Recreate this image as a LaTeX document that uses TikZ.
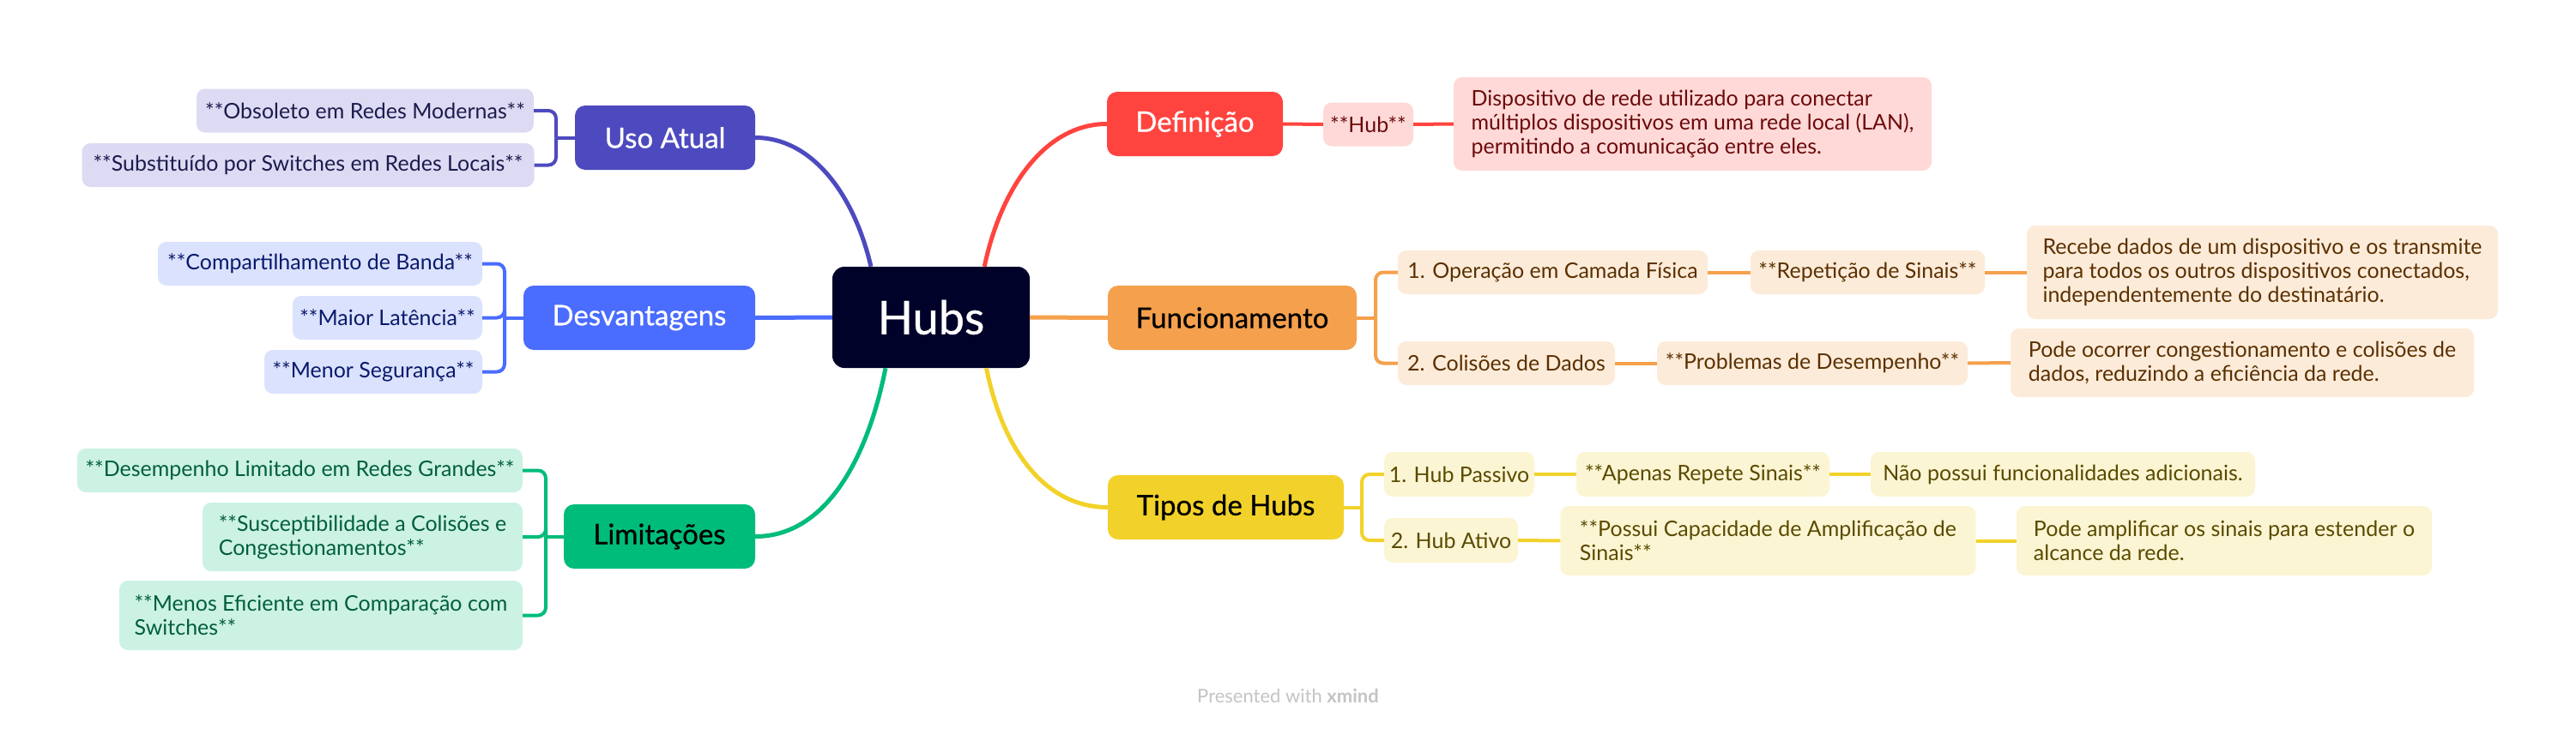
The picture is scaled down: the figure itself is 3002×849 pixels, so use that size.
\documentclass[tikz,border=0pt]{standalone}
\usepackage{fontspec}
\setmainfont{Lato}
\newfontfamily\medfont[FakeBold=0.7]{Lato}
\usetikzlibrary{calc}
\definecolor{cHub}{HTML}{000229}
\definecolor{cUso}{HTML}{4D4ABF}
\definecolor{cUsoL}{HTML}{DCDBF3}
\definecolor{cUsoT}{HTML}{1C1B4D}
\definecolor{cDes}{HTML}{4A6CFF}
\definecolor{cDesL}{HTML}{DBE2FE}
\definecolor{cDesT}{HTML}{0A1A6B}
\definecolor{cLim}{HTML}{00BC7A}
\definecolor{cLimL}{HTML}{CCF2E4}
\definecolor{cLimT}{HTML}{005F3A}
\definecolor{cDef}{HTML}{FF443F}
\definecolor{cDefL}{HTML}{FFD9D8}
\definecolor{cDefT}{HTML}{6B0A0A}
\definecolor{cFun}{HTML}{F5A04C}
\definecolor{cFunL}{HTML}{FDEBD9}
\definecolor{cFunT}{HTML}{5A3000}
\definecolor{cTip}{HTML}{F2D22A}
\definecolor{cTipL}{HTML}{FCF5D3}
\definecolor{cTipT}{HTML}{594A00}
\definecolor{cMark}{HTML}{C4C4C4}
\begin{document}
\begin{tikzpicture}[x=1pt,y=-1pt,
  base/.style={inner sep=0pt, align=center},
  hubbox/.style={base, fill=cHub, text=white, minimum width=230pt, minimum height=118pt, rounded corners=14pt, font=\medfont\fontsize{54}{60}\selectfont},
  mainbox/.style={base, minimum height=75pt, rounded corners=12pt, font=\medfont\fontsize{33}{38}\selectfont},
  subbox/.style={base, align=left, rounded corners=10pt, font=\fontsize{25}{28}\selectfont},
  sub1/.style={subbox, minimum height=51pt},
  mline/.style={line width=5pt},
  sline/.style={line width=4pt},
  bline/.style={line width=4pt, rounded corners=9pt},
]
\useasboundingbox[fill=white] (0,0) rectangle (3002,849);

% central
\node[hubbox] (hubs) at (1085,370) {Hubs};

% main branches
\node[mainbox, fill=cUso, text=white, minimum width=210pt] (uso) at (775,160.5) {Uso Atual};
\node[mainbox, fill=cDes, text=white, minimum width=270pt] (des) at (745,370.5) {Desvantagens};
\node[mainbox, fill=cLim, text=black, minimum width=223pt] (lim) at (768.5,625.5) {Limitações};
\node[mainbox, fill=cDef, text=white, minimum width=205pt] (defn) at (1392.5,144.5) {Definição};
\node[mainbox, fill=cFun, text=black, minimum width=290pt] (fun) at (1436,370.5) {Funcionamento};
\node[mainbox, fill=cTip, text=black, minimum width=275pt] (tip) at (1428.5,591.5) {Tipos de Hubs};

% Uso Atual children
\node[sub1, fill=cUsoL, text=cUsoT, minimum width=393pt] (u1) at (425.5,129) {**Obsoleto em Redes Modernas**};
\node[sub1, fill=cUsoL, text=cUsoT, minimum width=527pt] (u2) at (359,192.5) {**Substituído por Switches em Redes Locais**};

% Desvantagens children
\node[sub1, fill=cDesL, text=cDesT, minimum width=378pt] (d1) at (373,307.5) {**Compartilhamento de Banda**};
\node[sub1, fill=cDesL, text=cDesT, minimum width=221pt] (d2) at (451.5,370.5) {**Maior Latência**};
\node[sub1, fill=cDesL, text=cDesT, minimum width=254pt] (d3) at (435,433.5) {**Menor Segurança**};

% Limitacoes children
\node[sub1, fill=cLimL, text=cLimT, minimum width=519pt] (l1) at (349.5,548.5) {**Desempenho Limitado em Redes Grandes**};
\node[subbox, fill=cLimL, text=cLimT, minimum width=373pt, minimum height=80pt] (l2) at (422.5,626) {**Susceptibilidade a Colisões e\\Congestionamentos**};
\node[subbox, fill=cLimL, text=cLimT, minimum width=470pt, minimum height=81pt] (l3) at (374,717.5) {**Menos Eficiente em Comparação com\\Switches**};

% Definicao children
\node[sub1, fill=cDefL, text=cDefT, minimum width=105pt] (h1) at (1594.5,145) {**Hub**};
\node[subbox, fill=cDefL, text=cDefT, minimum width=557pt, minimum height=109pt] (h2) at (1972.5,144.5) {Dispositivo de rede utilizado para conectar\\múltiplos dispositivos em uma rede local (LAN),\\permitindo a comunicação entre eles.};

% Funcionamento children
\node[sub1, fill=cFunL, text=cFunT, minimum width=361pt] (f1) at (1809.5,317.5) {1. Operação em Camada Física};
\node[sub1, fill=cFunL, text=cFunT, minimum width=273pt] (f1a) at (2176.5,317.5) {**Repetição de Sinais**};
\node[subbox, fill=cFunL, text=cFunT, minimum width=549pt, minimum height=109pt] (f1b) at (2636.5,317.5) {Recebe dados de um dispositivo e os transmite\\para todos os outros dispositivos conectados,\\independentemente do destinatário.};
\node[sub1, fill=cFunL, text=cFunT, minimum width=253pt] (f2) at (1755.5,423.5) {2. Colisões de Dados};
\node[sub1, fill=cFunL, text=cFunT, minimum width=362pt] (f2a) at (2112,423.5) {**Problemas de Desempenho**};
\node[subbox, fill=cFunL, text=cFunT, minimum width=540pt, minimum height=80pt] (f2b) at (2613,423) {Pode ocorrer congestionamento e colisões de\\dados, reduzindo a eficiência da rede.};

% Tipos children
\node[sub1, fill=cTipL, text=cTipT, minimum width=175pt, minimum height=52pt] (t1) at (1700.5,553) {1. Hub Passivo};
\node[sub1, fill=cTipL, text=cTipT, minimum width=295pt, minimum height=52pt] (t1a) at (1984.5,553) {**Apenas Repete Sinais**};
\node[sub1, fill=cTipL, text=cTipT, minimum width=448pt, minimum height=52pt] (t1b) at (2404,553) {Não possui funcionalidades adicionais.};
\node[sub1, fill=cTipL, text=cTipT, minimum width=156pt, minimum height=52pt] (t2) at (1691,630) {2. Hub Ativo};
\node[subbox, fill=cTipL, text=cTipT, minimum width=484pt, minimum height=81pt] (t2a) at (2060.5,630.5) {**Possui Capacidade de Amplificação de\\Sinais**};
\node[subbox, fill=cTipL, text=cTipT, minimum width=484pt, minimum height=81pt] (t2b) at (2592,630.5) {Pode amplificar os sinais para estender o\\alcance da rede.};

% attachment points on the central box
\coordinate (hb1) at ($(hubs.north west)!0.196!(hubs.north east)$);
\coordinate (hb2) at ($(hubs.north west)!0.77!(hubs.north east)$);
\coordinate (hb3) at ($(hubs.south west)!0.27!(hubs.south east)$);
\coordinate (hb4) at ($(hubs.south west)!0.78!(hubs.south east)$);

% main connectors
\draw[mline, cUso] (uso.east) .. controls +(65,0) and +(-20,-86) .. (hb1);
\draw[mline, cDes] (des.east) -- (hubs.west);
\draw[mline, cLim] (lim.east) .. controls +(80,0) and +(-22,110) .. (hb3);
\draw[mline, cDef] (defn.west) .. controls +(-70,0) and +(20,-95) .. (hb2);
\draw[mline, cFun] (hubs.east) -- (fun.west);
\draw[mline, cTip] (tip.west) .. controls +(-70,0) and +(20,100) .. (hb4);

% bracket points
\coordinate (ub) at (648,160.5);
\coordinate (db) at (588,370.5);
\coordinate (lb) at (636,625.5);
\coordinate (fb) at (1603,370.5);
\coordinate (tb) at (1587,591.5);

% Uso Atual bracket
\draw[sline, cUso] (uso.west) -- (ub);
\draw[bline, cUso] (ub) |- (u1.east);
\draw[bline, cUso] (ub) |- (u2.east);
% Desvantagens bracket
\draw[sline, cDes] (des.west) -- (db);
\draw[bline, cDes] (db) |- (d1.east);
\draw[bline, cDes] (db) |- (d2.east);
\draw[bline, cDes] (db) |- (d3.east);
% Limitacoes bracket
\draw[sline, cLim] (lim.west) -- (lb);
\draw[bline, cLim] (lb) |- (l1.east);
\draw[bline, cLim] (lb) |- (l2.east);
\draw[bline, cLim] (lb) |- (l3.east);
% Definicao chain
\draw[sline, cDef] (defn.east) -- (h1.west);
\draw[sline, cDef] (h1.east) -- (h2.west);
% Funcionamento bracket
\draw[sline, cFun] (fun.east) -- (fb);
\draw[bline, cFun] (fb) |- (f1.west);
\draw[bline, cFun] (fb) |- (f2.west);
\draw[sline, cFun] (f1.east) -- (f1a.west);
\draw[sline, cFun] (f1a.east) -- (f1b.west);
\draw[sline, cFun] (f2.east) -- (f2a.west);
\draw[sline, cFun] (f2a.east) -- (f2b.west);
% Tipos bracket
\draw[sline, cTip] (tip.east) -- (tb);
\draw[bline, cTip] (tb) |- (t1.west);
\draw[bline, cTip] (tb) |- (t2.west);
\draw[sline, cTip] (t1.east) -- (t1a.west);
\draw[sline, cTip] (t1a.east) -- (t1b.west);
\draw[sline, cTip] (t2.east) -- (t2a.west);
\draw[sline, cTip] (t2a.east) -- (t2b.west);

% watermark
\node[text=cMark, font=\fontsize{22}{26}\selectfont, inner sep=0pt] (mark) at (1501,811) {Presented with \textbf{xmind}};
\end{tikzpicture}
\end{document}
